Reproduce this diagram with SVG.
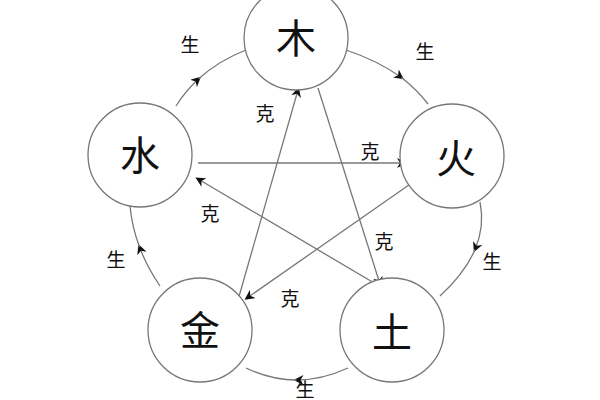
<svg xmlns="http://www.w3.org/2000/svg" width="600" height="400" viewBox="0 0 600 400">
<style>
.n{fill:#fff;stroke:#777;stroke-width:1.3}
.big{font-family:"Noto Sans CJK SC",sans-serif;font-size:40px;fill:#111;text-anchor:middle;dominant-baseline:central}
.sm{font-family:"Noto Sans CJK SC",sans-serif;font-size:19px;fill:#111;text-anchor:middle;dominant-baseline:central}
.l{fill:none;stroke:#777;stroke-width:1.3}
</style>
<defs><marker id="a" viewBox="0 0 10 10" refX="7" refY="5" markerWidth="10" markerHeight="10" markerUnits="userSpaceOnUse" orient="auto"><path d="M0,0L10,5L0,10L3,5z" fill="#111"/></marker></defs>
<rect width="600" height="400" fill="#fff"/>
<g id="connectors">
<path class="l" d="M176,106 Q185.6,90.8 198.7,78.8" marker-end="url(#a)"/>
<path class="l" d="M198.7,78.8 Q218.4,60.8 246,50"/>
<path class="l" d="M346,50 Q378.4,60.8 401.4,77.6" marker-end="url(#a)"/>
<path class="l" d="M401.4,77.6 Q416.8,89.6 428,104"/>
<path class="l" d="M480,202 Q485,226 475,249.5" marker-end="url(#a)"/>
<path class="l" d="M475,249.5 Q465,273 440,296"/>
<path class="l" d="M348,368 Q322,380 296.5,380" marker-end="url(#a)"/>
<path class="l" d="M296.5,380 Q271,380 246,368"/>
<path class="l" d="M160,286 Q147,267 139.5,247" marker-end="url(#a)"/>
<path class="l" d="M139.5,247 Q132,227 130,206"/>
<line class="l" x1="318" y1="88" x2="380" y2="284" marker-end="url(#a)"/>
<line class="l" x1="386" y1="290" x2="198" y2="179" marker-end="url(#a)"/>
<line class="l" x1="198" y1="163" x2="404" y2="163" marker-end="url(#a)"/>
<line class="l" x1="416" y1="180" x2="247" y2="298" marker-end="url(#a)"/>
<line class="l" x1="238" y1="300" x2="298" y2="90" marker-end="url(#a)"/>
</g>
<g id="labels">
<text class="sm" x="190" y="43">生</text>
<text class="sm" x="425" y="50">生</text>
<text class="sm" x="492" y="260">生</text>
<text class="sm" x="305" y="388">生</text>
<text class="sm" x="116" y="258">生</text>
<text class="sm" x="265" y="112">克</text>
<text class="sm" x="370" y="150">克</text>
<text class="sm" x="384" y="240">克</text>
<text class="sm" x="290" y="297">克</text>
<text class="sm" x="210" y="212">克</text>
</g>
<g id="wood"><circle class="n" cx="296" cy="38" r="52"/><text class="big" x="296" y="36">木</text></g>
<g id="fire"><circle class="n" cx="452" cy="156" r="52"/><text class="big" x="456" y="156">火</text></g>
<g id="earth"><circle class="n" cx="392" cy="330" r="52"/><text class="big" x="392" y="330">土</text></g>
<g id="metal"><circle class="n" cx="200" cy="330" r="52"/><text class="big" x="200" y="328">金</text></g>
<g id="water"><circle class="n" cx="140" cy="155" r="52"/><text class="big" x="140" y="153">水</text></g>
</svg>
